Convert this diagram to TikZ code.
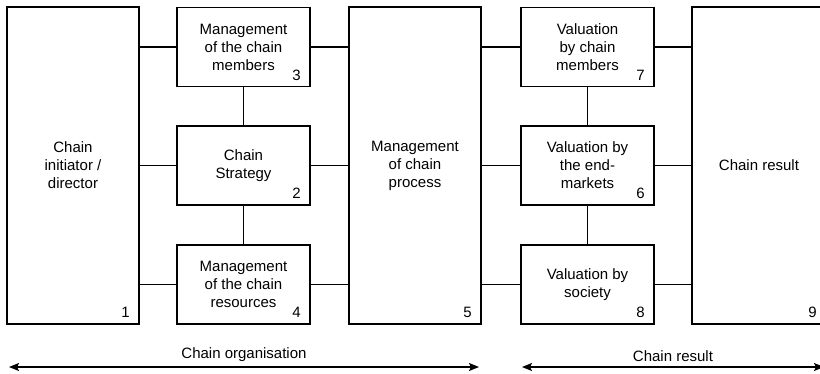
\documentclass[tikz,border=0pt]{standalone}
\usepackage{fontspec}
\setmainfont{Liberation Sans}
\usetikzlibrary{arrows.meta}

\begin{document}
\begin{tikzpicture}[x=1pt, y=-1pt,
    every node/.style={font=\fontsize{15}{18}\selectfont},
    tallbox/.style={draw, line width=1.8pt, minimum width=132pt, minimum height=317pt, align=center, inner sep=0pt},
    smallbox/.style={draw, line width=1.8pt, minimum width=133pt, minimum height=79pt, align=center, inner sep=0pt},
    num/.style={anchor=south east, inner sep=0pt, xshift=-10pt, yshift=7pt},
    link/.style={line width=1.8pt},
    span/.style={line width=1.5pt, {Stealth[length=10pt,width=8pt,inset=2pt]}-{Stealth[length=10pt,width=8pt,inset=2pt]}}]
    \useasboundingbox[fill=white] (0,0) rectangle (820,373);

    % Chain organisation
    \node[tallbox] (initiator) at (73,165.5) {Chain\\initiator /\\director};
    \node[smallbox] (members) at (243.5,47) {Management\\of the chain\\members};
    \node[smallbox] (strategy) at (243.5,165.5) {Chain\\Strategy};
    \node[smallbox] (resources) at (243.5,284.5) {Management\\of the chain\\resources};
    \node[tallbox] (process) at (415,165.5) {Management\\of chain\\process};

    % Chain result
    \node[smallbox] (valmembers) at (587.5,47) {Valuation\\by chain\\members};
    \node[smallbox] (valmarkets) at (587.5,165.5) {Valuation by\\the end-\\markets};
    \node[smallbox] (valsociety) at (587.5,284.5) {Valuation by\\society};
    \node[tallbox, minimum width=134pt] (result) at (759,165.5) {Chain result};

    % Numbers
    \node[num] (n1) at (initiator.south east) {1};
    \node[num] (n2) at (strategy.south east) {2};
    \node[num] (n3) at (members.south east) {3};
    \node[num] (n4) at (resources.south east) {4};
    \node[num] (n5) at (process.south east) {5};
    \node[num] (n6) at (valmarkets.south east) {6};
    \node[num] (n7) at (valmembers.south east) {7};
    \node[num] (n8) at (valsociety.south east) {8};
    \node[num] (n9) at (result.south east) {9};

    % Links
    \foreach \b in {members, strategy, resources} {
      \draw[link] (\b.west) -- (\b.west -| initiator.east);
      \draw[link] (\b.east) -- (\b.east -| process.west);
    }
    \foreach \b in {valmembers, valmarkets, valsociety} {
      \draw[link] (\b.west) -- (\b.west -| process.east);
      \draw[link] (\b.east) -- (\b.east -| result.west);
    }
    \draw[link] (members) -- (strategy);
    \draw[link] (strategy) -- (resources);
    \draw[link] (valmembers) -- (valmarkets);
    \draw[link] (valmarkets) -- (valsociety);

    % Spans
    \coordinate (orgL) at (9,367);
    \coordinate (orgR) at (479,367);
    \coordinate (resL) at (522,367);
    \coordinate (resR) at (824,367);
    \draw[span] (orgL) -- (orgR) node[midway, above=1pt] (orglabel) {Chain organisation};
    \draw[span] (resL) -- (resR) node[midway, above=1pt] (reslabel) {Chain result};
\end{tikzpicture}
\end{document}
